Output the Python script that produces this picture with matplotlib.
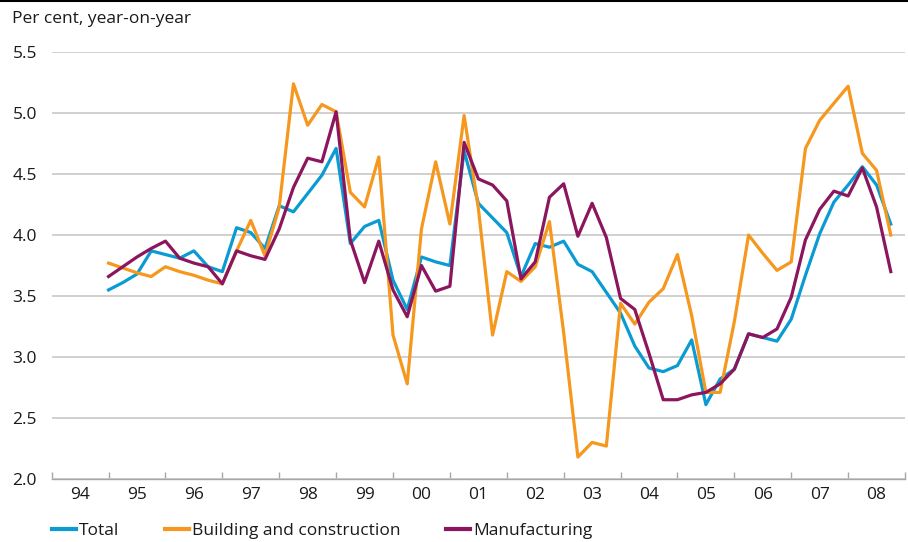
import matplotlib
matplotlib.use('Agg')
import matplotlib.pyplot as plt
from matplotlib.lines import Line2D
import pandas as pd

TOTAL_COLOR = '#0a9bd2'
BUILDING_COLOR = '#f6971e'
MANUFACTURING_COLOR = '#8c165e'
GRID_COLOR = '#c8c8c8'
TEXT_COLOR = '#1a1a1a'
FONT_SIZE = 12.5

# quarterly observations, 1994Q4 to 2008Q3
first_quarter = '1994Q4'
last_quarter = '2008Q3'
year_labels = ['94', '95', '96', '97', '98', '99', '00', '01', '02', '03', '04', '05', '06', '07', '08']

total = [3.55, 3.61, 3.68, 3.87, 3.84, 3.81, 3.87, 3.74, 3.70, 4.06,
         4.02, 3.89, 4.24, 4.19, 4.34, 4.49, 4.71, 3.93, 4.07, 4.12,
         3.63, 3.39, 3.82, 3.78, 3.75, 4.69, 4.26, 4.14, 4.02, 3.66,
         3.93, 3.90, 3.95, 3.76, 3.70, 3.53, 3.36, 3.09, 2.91, 2.88,
         2.93, 3.14, 2.61, 2.82, 2.90, 3.19, 3.16, 3.13, 3.31, 3.67,
         4.01, 4.27, 4.41, 4.56, 4.41, 4.09]
building = [3.77, 3.73, 3.69, 3.66, 3.74, 3.70, 3.67, 3.63, 3.60, 3.87,
            4.12, 3.83, 4.23, 5.24, 4.90, 5.07, 5.01, 4.35, 4.23, 4.64,
            3.18, 2.78, 4.05, 4.60, 4.09, 4.98, 4.22, 3.18, 3.70, 3.62,
            3.74, 4.11, 3.20, 2.18, 2.30, 2.27, 3.44, 3.27, 3.45, 3.56,
            3.84, 3.34, 2.71, 2.71, 3.29, 4.00, 3.85, 3.71, 3.78, 4.71,
            4.94, 5.08, 5.22, 4.67, 4.53, 4.00]
manufacturing = [3.66, 3.74, 3.82, 3.89, 3.95, 3.81, 3.77, 3.74, 3.60, 3.87,
                 3.83, 3.80, 4.05, 4.39, 4.63, 4.60, 5.01, 3.96, 3.61, 3.95,
                 3.55, 3.33, 3.75, 3.54, 3.58, 4.76, 4.46, 4.41, 4.28, 3.64,
                 3.78, 4.31, 4.42, 3.99, 4.26, 3.98, 3.48, 3.39, 3.03, 2.65,
                 2.65, 2.69, 2.71, 2.78, 2.90, 3.19, 3.16, 3.23, 3.49, 3.96,
                 4.21, 4.36, 4.32, 4.55, 4.23, 3.70]

plt.rcParams['font.family'] = ['Open Sans', 'DejaVu Sans']
plt.rcParams['font.size'] = FONT_SIZE

quarters = pd.period_range(first_quarter, last_quarter, freq='Q')
x_values = quarters.year + quarters.quarter / 4
first_year = 1994

fig = plt.figure(figsize=(9.08, 5.42), dpi=100)
ax = fig.add_axes([0.0569, 0.1162, 0.9398, 0.7878])

ax.plot(x_values, total, color=TOTAL_COLOR, linewidth=2.3, label='Total')
ax.plot(x_values, building, color=BUILDING_COLOR, linewidth=2.3, label='Building and construction')
ax.plot(x_values, manufacturing, color=MANUFACTURING_COLOR, linewidth=2.3, label='Manufacturing')

ax.set_ylim(2.0, 5.5)
ax.set_yticks([2.0, 2.5, 3.0, 3.5, 4.0, 4.5, 5.0, 5.5])
ax.set_yticklabels(['2.0', '2.5', '3.0', '3.5', '4.0', '4.5', '5.0', '5.5'])
ax.yaxis.grid(True, color=GRID_COLOR, linewidth=1.2)
ax.set_axisbelow(True)
ax.tick_params(axis='y', length=0, pad=10.5, colors=TEXT_COLOR, labelsize=FONT_SIZE)

ax.set_xlim(first_year, first_year + len(year_labels))
ax.set_xticks([first_year + k for k in range(len(year_labels) + 1)])
ax.set_xticklabels([])
ax.set_xticks([first_year + k + 0.5 for k in range(len(year_labels))], minor=True)
ax.set_xticklabels(year_labels, minor=True)
ax.tick_params(axis='x', which='major', direction='in', length=5, width=1, color='#a6a6a6')
ax.tick_params(axis='x', which='minor', length=0, pad=6, labelcolor=TEXT_COLOR, labelsize=FONT_SIZE)

for side in ['left', 'right', 'top']:
    ax.spines[side].set_visible(False)
ax.spines['bottom'].set_color('#a6a6a6')
ax.spines['bottom'].set_linewidth(1.0)

fig.text(12 / 908, 1 - 19 / 542, 'Per cent, year-on-year', fontsize=FONT_SIZE, color=TEXT_COLOR, va='center', ha='left')
fig.add_artist(Line2D([0, 1], [1 - 1 / 542, 1 - 1 / 542], color='black', linewidth=1.5, transform=fig.transFigure))

fig.legend(loc='center left', bbox_to_anchor=(52 / 908, 1 - 531 / 542), ncol=3, frameon=False,
           borderaxespad=0, borderpad=0, handlelength=1.4, handletextpad=0.17, columnspacing=2.6,
           fontsize=FONT_SIZE, labelcolor=TEXT_COLOR)
for handle in fig.legends[0].legend_handles:
    handle.set_linewidth(3)

fig.savefig('out.png', dpi=100)
